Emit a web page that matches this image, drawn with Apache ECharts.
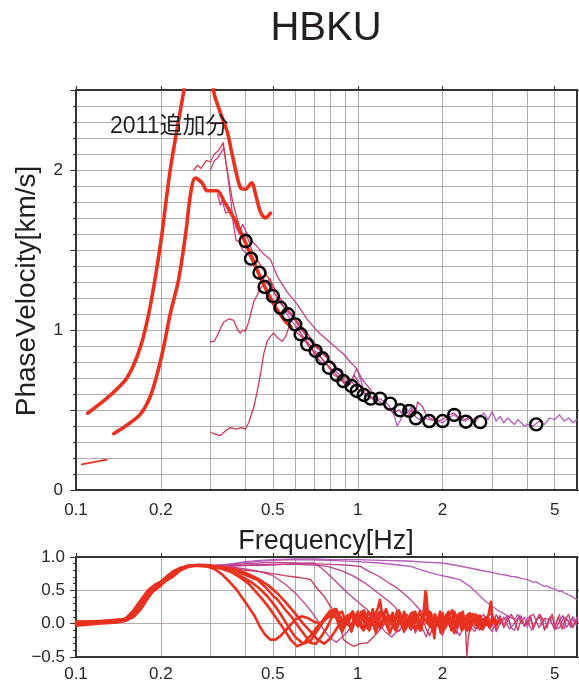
<!DOCTYPE html>
<html>
<head>
<meta charset="utf-8">
<style>
  html, body { margin: 0; padding: 0; background: #ffffff; }
  #chart { width: 579px; height: 687px; }
</style>
<script src="https://cdn.jsdelivr.net/npm/echarts@6.0.0/dist/echarts.min.js"></script>
</head>
<body>
<div id="chart"></div>
<script>
// ---- axis values ----
const freqLabels = [0.1, 0.2, 0.5, 1, 2, 5];
const freqGrid = [0.1, 0.2, 0.3, 0.4, 0.5, 0.6, 0.7, 0.8, 0.9, 1, 2, 3, 4, 5, 6];

// ---- dispersion panel: phase velocity [km/s] vs frequency [Hz] ----
// picked dispersion points (circles)
const pickedFreq = [0.40, 0.418, 0.448, 0.467, 0.50, 0.532, 0.565, 0.60, 0.627, 0.662, 0.709, 0.749, 0.791, 0.842, 0.889, 0.95, 0.992, 1.05, 1.113, 1.2, 1.303, 1.415, 1.523, 1.608, 1.794, 2.0, 2.2, 2.42, 2.72, 4.3];
const pickedVel  = [1.556, 1.446, 1.358, 1.269, 1.212, 1.139, 1.098, 1.035, 0.973, 0.910, 0.869, 0.823, 0.764, 0.719, 0.681, 0.650, 0.619, 0.594, 0.571, 0.571, 0.540, 0.498, 0.494, 0.448, 0.431, 0.431, 0.469, 0.427, 0.424, 0.410];

// 2011 additions (thick red)
const add2011A = [[0.11,0.48],[0.13,0.58],[0.1515,0.70],[0.169,0.89],[0.183,1.14],[0.2,1.55],[0.216,2.0],[0.241,2.49],[0.26,2.85],[0.28,2.95],[0.3,2.7],[0.308,2.49],[0.325,2.36],[0.344,2.24],[0.36,2.08],[0.383,1.89],[0.40,1.88],[0.42,1.92],[0.435,1.84],[0.451,1.74],[0.47,1.70],[0.49,1.73]];
const add2011B = [[0.136,0.352],[0.15,0.40],[0.169,0.473],[0.183,0.58],[0.194,0.723],[0.205,0.9],[0.216,1.10],[0.231,1.31],[0.245,1.6],[0.255,1.85],[0.265,1.95],[0.28,1.92],[0.292,1.87],[0.317,1.87],[0.334,1.81],[0.355,1.73],[0.373,1.66],[0.41,1.5],[0.451,1.33],[0.5,1.17],[0.55,1.06],[0.58,1.02]];
const add2011C = [[0.1047,0.16],[0.1286,0.19]];

// other stations' curves (thin)
const curveA = [[0.262,2.0],[0.27,2.03],[0.278,2.01],[0.29,2.06],[0.30,2.05],[0.31,2.1],[0.32,2.12],[0.333,2.17],[0.34,2.05],[0.35,1.92],[0.36,1.8],[0.37,1.72],[0.38,1.65],[0.39,1.6],[0.40,1.6],[0.41,1.56],[0.42,1.5],[0.44,1.44],[0.46,1.38],[0.48,1.33],[0.50,1.28],[0.52,1.22],[0.55,1.16],[0.58,1.1],[0.62,1.02],[0.66,0.96],[0.70,0.9],[0.75,0.86],[0.8,0.8],[0.85,0.75]];
const curveB = [[0.30,2.0],[0.31,2.06],[0.32,2.08],[0.335,2.14],[0.345,1.98],[0.355,1.8],[0.362,1.66],[0.37,1.56],[0.38,1.55],[0.39,1.5],[0.41,1.47],[0.43,1.4],[0.45,1.35],[0.47,1.3],[0.49,1.27],[0.51,1.22],[0.53,1.17],[0.56,1.12],[0.6,1.06],[0.64,0.99],[0.68,0.93],[0.72,0.89],[0.76,0.84],[0.8,0.81],[0.84,0.77],[0.88,0.72],[0.92,0.69],[0.96,0.67],[1.0,0.63],[1.05,0.61],[1.1,0.58]];
const curveC = [[0.318,1.85],[0.325,1.78],[0.33,1.81],[0.34,1.73],[0.35,1.74],[0.36,1.72],[0.37,1.64],[0.38,1.6],[0.39,1.66],[0.40,1.62],[0.42,1.56],[0.44,1.52],[0.46,1.48],[0.49,1.44],[0.52,1.33],[0.56,1.24],[0.61,1.16],[0.66,1.07],[0.72,0.99],[0.8,0.92],[0.85,0.88],[0.89,0.85],[0.94,0.8],[0.99,0.76],[1.03,0.7],[1.07,0.66],[1.12,0.62]];
const curveD = [[0.30,0.925],[0.31,0.93],[0.32,0.98],[0.334,1.05],[0.35,1.07],[0.363,1.06],[0.375,1.0],[0.383,0.98],[0.39,1.0],[0.399,0.99],[0.41,1.05],[0.428,1.18],[0.44,1.22],[0.451,1.26],[0.47,1.3],[0.49,1.32],[0.5,1.25],[0.52,1.2],[0.55,1.14],[0.58,1.1],[0.62,1.04],[0.66,0.98],[0.7,0.92],[0.74,0.87],[0.78,0.83]];
const curveE = [[0.30,0.3625],[0.31,0.35],[0.325,0.34],[0.34,0.37],[0.353,0.39],[0.37,0.38],[0.385,0.39],[0.399,0.38],[0.41,0.42],[0.428,0.52],[0.44,0.62],[0.451,0.72],[0.465,0.86],[0.477,0.93],[0.49,0.96],[0.503,0.98],[0.52,0.95],[0.54,0.93],[0.555,0.96],[0.57,1.02],[0.59,1.0],[0.62,0.97],[0.66,0.92],[0.7,0.86],[0.74,0.83],[0.78,0.78],[0.82,0.74],[0.86,0.70],[0.9,0.67]];
const curveF = [[0.55,1.12],[0.58,1.06],[0.62,1.0],[0.65,0.93],[0.68,0.88],[0.72,0.86],[0.76,0.80],[0.8,0.76],[0.84,0.74],[0.88,0.70],[0.92,0.66],[0.96,0.70],[0.99,0.76],[1.02,0.70],[1.06,0.6],[1.1,0.58],[1.15,0.56],[1.2,0.57],[1.25,0.55],[1.3,0.52],[1.35,0.46],[1.38,0.40],[1.42,0.44],[1.46,0.50],[1.5,0.48],[1.55,0.52],[1.6,0.46],[1.65,0.44],[1.7,0.45],[1.8,0.44],[1.9,0.43],[2.0,0.42],[2.1,0.45],[2.2,0.47],[2.3,0.44],[2.4,0.43],[2.5,0.45],[2.6,0.42],[2.7,0.46],[2.8,0.48],[2.9,0.44],[3.0,0.49],[3.1,0.43],[3.2,0.46],[3.3,0.42],[3.4,0.45],[3.5,0.43],[3.6,0.41],[3.7,0.44],[3.8,0.42],[3.9,0.40],[4.0,0.41],[4.2,0.40],[4.4,0.43],[4.6,0.41],[4.8,0.45],[5.0,0.44],[5.2,0.47],[5.4,0.43],[5.6,0.45],[5.8,0.42],[6.0,0.44]];
const curveG = [[0.6,1.02],[0.64,0.96],[0.68,0.9],[0.7,0.85],[0.74,0.80],[0.78,0.78],[0.82,0.72],[0.86,0.70],[0.9,0.66],[0.94,0.66],[0.97,0.72],[1.0,0.68],[1.04,0.62],[1.08,0.59],[1.12,0.58],[1.18,0.56],[1.24,0.53],[1.3,0.50],[1.34,0.48],[1.4,0.50],[1.45,0.47],[1.5,0.46],[1.55,0.50],[1.6,0.47],[1.63,0.55],[1.7,0.52],[1.75,0.47],[1.8,0.45],[1.9,0.43],[2.0,0.44],[2.1,0.47],[2.2,0.48],[2.3,0.45],[2.4,0.44],[2.5,0.46],[2.6,0.43]];

// ---- coherence panel ----
const cohRed1 = [[0.1,0.0],[0.11,0.01],[0.12,0.03],[0.13,0.04],[0.14,0.04],[0.15,0.08],[0.16,0.2],[0.17,0.36],[0.18,0.5],[0.19,0.58],[0.2,0.63],[0.21,0.71],[0.22,0.78],[0.235,0.84],[0.25,0.87],[0.27,0.87],[0.29,0.86],[0.31,0.82],[0.33,0.74],[0.35,0.63],[0.37,0.52],[0.39,0.38],[0.41,0.25],[0.43,0.12],[0.45,-0.05],[0.47,-0.17],[0.49,-0.24],[0.51,-0.24],[0.53,-0.19],[0.56,-0.08],[0.6,0.06],[0.63,0.11],[0.66,0.09],[0.7,0.03],[0.74,0.0],[0.76,0.08],[0.78,0.14],[0.8,0.2],[0.82,0.1],[0.84,0.22],[0.86,0.06],[0.88,-0.06],[0.9,0.05],[0.92,-0.02],[0.95,0.14],[0.97,0.03],[1.0,0.18],[1.02,0.04],[1.05,-0.08],[1.08,0.1],[1.1,0.02],[1.13,0.22],[1.15,0.06],[1.18,0.14],[1.2,-0.06],[1.23,0.1],[1.26,0.22],[1.3,0.04],[1.33,0.16],[1.36,-0.1],[1.4,0.08],[1.43,-0.02],[1.46,0.18],[1.5,0.06],[1.54,-0.08],[1.58,0.14],[1.62,0.02],[1.66,0.18],[1.7,0.06],[1.73,0.25],[1.75,0.45],[1.77,0.2],[1.8,0.1],[1.84,-0.06],[1.88,0.14],[1.92,0.02],[1.96,0.18],[2.0,-0.08],[2.05,0.1],[2.1,0.18],[2.15,-0.02],[2.2,-0.14],[2.25,0.08],[2.3,0.16],[2.35,-0.02],[2.4,0.06],[2.45,-0.1],[2.5,0.16],[2.55,0.02],[2.6,0.1],[2.66,-0.06],[2.72,0.12],[2.8,-0.02],[2.88,0.08],[2.95,-0.05],[3.0,0.06]];
const cohRed2 = [[0.1,-0.03],[0.12,0.0],[0.14,0.02],[0.15,0.04],[0.16,0.12],[0.17,0.28],[0.18,0.44],[0.19,0.55],[0.2,0.62],[0.21,0.68],[0.22,0.74],[0.235,0.82],[0.25,0.86],[0.27,0.88],[0.29,0.88],[0.31,0.86],[0.33,0.83],[0.35,0.79],[0.38,0.70],[0.41,0.6],[0.43,0.5],[0.46,0.36],[0.49,0.21],[0.52,0.05],[0.55,-0.1],[0.58,-0.25],[0.61,-0.34],[0.64,-0.3],[0.68,-0.18],[0.72,-0.04],[0.76,0.06],[0.8,0.15],[0.83,0.22],[0.85,0.14],[0.87,0.1],[0.9,-0.02],[0.92,0.1],[0.95,-0.12],[0.98,0.06],[1.0,0.0],[1.03,0.18],[1.05,0.12],[1.08,-0.06],[1.1,-0.1],[1.13,0.08],[1.16,0.16],[1.18,0.24],[1.2,0.36],[1.22,0.14],[1.25,0.08],[1.28,-0.08],[1.31,0.1],[1.35,0.0],[1.38,0.18],[1.42,0.04],[1.46,-0.12],[1.5,0.02],[1.54,0.14],[1.58,-0.04],[1.62,0.1],[1.66,-0.1],[1.7,0.06],[1.75,0.18],[1.8,0.02],[1.85,-0.12],[1.9,0.1],[1.95,-0.02],[2.0,0.14],[2.05,-0.06],[2.1,0.06],[2.16,0.2],[2.22,-0.02],[2.28,0.1],[2.34,-0.1],[2.4,0.04],[2.46,0.14],[2.52,-0.04],[2.58,0.08],[2.64,-0.02],[2.7,0.12],[2.78,0.02],[2.86,0.1],[2.94,-0.06],[3.02,0.08],[3.1,-0.02],[3.2,0.05]];
const cohRed3 = [[0.1,0.02],[0.12,0.04],[0.14,0.05],[0.15,0.06],[0.16,0.15],[0.17,0.3],[0.18,0.42],[0.19,0.5],[0.2,0.57],[0.21,0.66],[0.22,0.76],[0.235,0.83],[0.25,0.87],[0.27,0.88],[0.3,0.87],[0.33,0.84],[0.36,0.80],[0.39,0.75],[0.42,0.69],[0.44,0.66],[0.47,0.55],[0.5,0.42],[0.52,0.36],[0.55,0.22],[0.58,0.11],[0.61,-0.02],[0.64,-0.14],[0.68,-0.29],[0.71,-0.3],[0.74,-0.2],[0.78,-0.05],[0.81,0.1],[0.84,0.2],[0.86,0.15],[0.88,0.18],[0.9,0.06],[0.92,0.12],[0.94,-0.06],[0.96,0.02],[0.99,0.14],[1.02,0.06],[1.05,0.2],[1.08,0.08],[1.1,-0.06],[1.13,0.04],[1.16,-0.14],[1.19,0.06],[1.22,0.18],[1.25,0.02],[1.29,0.12],[1.33,-0.06],[1.37,0.08],[1.4,0.2],[1.44,0.06],[1.48,-0.08],[1.52,0.08],[1.56,-0.02],[1.6,0.14],[1.64,0.02],[1.68,-0.1],[1.71,0.14],[1.74,0.49],[1.76,0.16],[1.79,-0.02],[1.83,0.1],[1.87,-0.22],[1.9,0.1],[1.95,0.0],[2.0,0.16],[2.05,-0.02],[2.1,0.08],[2.15,-0.1],[2.2,0.18],[2.26,0.04],[2.32,0.12],[2.38,-0.06],[2.44,0.08],[2.5,-0.02],[2.56,0.14],[2.62,0.02],[2.68,0.1],[2.74,-0.08],[2.8,0.06],[2.86,-0.02],[2.92,0.16],[2.97,0.33],[3.0,0.12],[3.05,0.04]];
const cohRed4 = [[0.1,-0.02],[0.12,0.02],[0.14,0.03],[0.15,0.05],[0.16,0.1],[0.17,0.22],[0.18,0.38],[0.19,0.52],[0.2,0.6],[0.21,0.65],[0.22,0.7],[0.235,0.8],[0.25,0.85],[0.27,0.88],[0.3,0.87],[0.33,0.85],[0.36,0.82],[0.4,0.76],[0.44,0.68],[0.48,0.58],[0.52,0.45],[0.56,0.3],[0.6,0.15],[0.64,0.0],[0.68,-0.12],[0.72,-0.24],[0.76,-0.3],[0.8,-0.22],[0.84,-0.08],[0.88,0.05],[0.92,0.12],[0.94,0.14],[0.96,0.18],[0.98,0.04],[1.0,-0.04],[1.03,0.1],[1.06,0.0],[1.09,0.18],[1.12,0.08],[1.15,-0.08],[1.18,0.06],[1.21,-0.04],[1.25,0.12],[1.29,0.02],[1.33,0.16],[1.37,-0.1],[1.41,0.04],[1.45,0.12],[1.5,-0.04],[1.55,0.16],[1.6,0.18],[1.64,0.04],[1.68,-0.06],[1.72,0.08],[1.77,0.0],[1.82,0.16],[1.87,-0.04],[1.92,0.08],[1.97,-0.14],[2.02,0.04],[2.07,0.14],[2.12,-0.02],[2.18,0.1],[2.24,-0.06],[2.3,0.06],[2.36,0.18],[2.42,-0.08],[2.48,0.08],[2.55,0.14],[2.62,-0.02],[2.7,0.08],[2.78,-0.06],[2.86,0.1],[2.94,0.02]];
const cohRed5 = [[0.1,0.03],[0.12,0.03],[0.14,0.06],[0.15,0.06],[0.16,0.18],[0.17,0.34],[0.18,0.47],[0.19,0.56],[0.2,0.6],[0.21,0.67],[0.22,0.75],[0.235,0.83],[0.25,0.86],[0.27,0.87],[0.3,0.86],[0.33,0.82],[0.36,0.77],[0.39,0.7],[0.42,0.62],[0.45,0.52],[0.48,0.4],[0.51,0.26],[0.54,0.1],[0.57,-0.06],[0.6,-0.2],[0.64,-0.3],[0.68,-0.26],[0.72,-0.1],[0.76,0.05],[0.8,0.12],[0.82,0.16],[0.84,0.08],[0.86,-0.04],[0.88,-0.12],[0.9,-0.02],[0.92,0.02],[0.94,0.12],[0.96,0.18],[0.98,0.08],[1.0,0.04],[1.03,-0.06],[1.05,-0.1],[1.08,0.02],[1.1,0.08],[1.13,-0.02],[1.15,0.02],[1.18,0.14],[1.2,0.18],[1.23,0.08],[1.25,0.04],[1.28,-0.06],[1.3,-0.14],[1.33,-0.02],[1.35,0.06],[1.38,0.18],[1.4,0.14],[1.45,0.02],[1.5,-0.04],[1.55,0.08],[1.6,-0.08],[1.65,0.02],[1.7,0.1],[1.75,0.04],[1.8,0.18],[1.85,0.06],[1.9,-0.04],[1.95,0.1],[2.0,-0.12],[2.05,0.02],[2.1,0.1],[2.16,-0.04],[2.22,0.14],[2.3,0.02],[2.36,-0.08],[2.42,0.06],[2.5,-0.1],[2.56,0.04],[2.62,0.14],[2.7,0.08],[2.78,-0.04],[2.86,0.06],[2.94,-0.02],[3.02,0.1],[3.1,0.04]];
const cohThin1 = [[0.3,0.87],[0.33,0.88],[0.36,0.9],[0.4,0.93],[0.45,0.95],[0.5,0.96],[0.6,0.97],[0.7,0.97],[0.8,0.96],[1.0,0.96],[1.2,0.95],[1.5,0.94],[1.8,0.92],[2.0,0.91],[2.2,0.88],[2.4,0.85],[2.6,0.82],[2.8,0.79],[3.0,0.77],[3.2,0.74],[3.35,0.73],[3.5,0.71],[3.65,0.70],[3.8,0.68],[4.0,0.66],[4.1,0.64],[4.2,0.62],[4.3,0.63],[4.4,0.6],[4.5,0.58],[4.6,0.56],[4.7,0.57],[4.8,0.54],[4.9,0.53],[5.0,0.52],[5.1,0.5],[5.2,0.48],[5.3,0.49],[5.4,0.46],[5.5,0.45],[5.6,0.43],[5.7,0.42],[5.8,0.4],[5.9,0.38],[6.0,0.36]];
const cohThin2 = [[0.3,0.87],[0.35,0.89],[0.4,0.92],[0.5,0.95],[0.6,0.96],[0.8,0.95],[1.0,0.93],[1.2,0.91],[1.4,0.88],[1.54,0.86],[1.7,0.8],[1.9,0.74],[2.1,0.7],[2.3,0.66],[2.5,0.56],[2.65,0.46],[2.8,0.36],[3.0,0.26],[3.2,0.18],[3.4,0.12],[3.6,0.06],[3.7,0.14],[3.8,0.0],[3.9,0.1],[4.0,-0.06],[4.1,0.08],[4.2,-0.08],[4.3,0.04],[4.4,0.14],[4.5,-0.02],[4.6,0.08],[4.7,-0.07],[4.8,0.1],[4.9,0.0],[5.0,-0.1],[5.1,0.06],[5.2,0.14],[5.3,-0.02],[5.4,-0.08],[5.5,0.08],[5.6,0.02],[5.7,-0.06],[5.8,0.1],[5.9,-0.02],[6.0,0.08]];
const cohThin3 = [[0.3,0.87],[0.35,0.88],[0.4,0.9],[0.5,0.92],[0.6,0.91],[0.7,0.9],[0.8,0.89],[0.9,0.88],[1.02,0.86],[1.1,0.78],[1.2,0.7],[1.3,0.6],[1.35,0.56],[1.45,0.46],[1.54,0.36],[1.65,0.22],[1.77,0.11],[1.9,0.02],[1.95,0.1],[2.0,-0.1],[2.06,0.06],[2.12,-0.05],[2.18,0.1],[2.24,-0.15],[2.3,0.02],[2.36,0.12],[2.42,-0.12],[2.5,0.08],[2.56,-0.02],[2.62,-0.08],[2.7,0.06],[2.8,0.14],[2.9,-0.04],[3.0,-0.12],[3.1,0.04],[3.2,0.12],[3.3,-0.02],[3.4,0.1],[3.5,-0.06],[3.6,-0.1],[3.7,0.06],[3.8,0.12],[3.9,-0.04],[4.0,0.04],[4.15,-0.1],[4.3,0.06],[4.45,0.14],[4.6,-0.08],[4.75,0.04],[4.9,0.1],[5.05,-0.08],[5.2,0.04],[5.35,0.12],[5.5,-0.06],[5.65,0.02],[5.8,0.1],[6.0,-0.02]];
const cohThin4 = [[0.3,0.87],[0.35,0.87],[0.4,0.88],[0.5,0.89],[0.6,0.89],[0.7,0.88],[0.78,0.86],[0.87,0.8],[0.97,0.71],[1.07,0.6],[1.18,0.46],[1.27,0.36],[1.35,0.26],[1.46,0.06],[1.5,0.04],[1.55,-0.1],[1.6,0.04],[1.65,0.08],[1.7,-0.08],[1.75,-0.2],[1.8,-0.04],[1.85,0.1],[1.9,0.02],[1.95,-0.06],[2.02,0.08],[2.1,0.12],[2.2,-0.06],[2.3,-0.18],[2.4,0.0],[2.5,0.06],[2.6,0.12],[2.7,-0.1],[2.8,0.02],[2.9,0.04],[3.0,0.1],[3.1,-0.12],[3.2,0.0],[3.3,0.06],[3.4,0.12],[3.5,-0.04]];
const cohThin5 = [[0.3,0.87],[0.35,0.86],[0.4,0.87],[0.5,0.88],[0.6,0.9],[0.7,0.91],[0.75,0.82],[0.8,0.71],[0.86,0.58],[0.92,0.46],[1.0,0.33],[1.08,0.21],[1.18,0.01],[1.25,-0.12],[1.32,-0.2],[1.36,-0.14],[1.4,-0.1],[1.45,-0.02],[1.5,0.02],[1.55,0.1],[1.6,-0.14],[1.65,-0.04],[1.7,0.1],[1.75,0.04],[1.8,-0.06],[1.9,0.06],[2.0,0.12],[2.1,0.0],[2.2,-0.08],[2.3,0.1],[2.4,0.06],[2.5,-0.04],[2.6,-0.12],[2.7,0.04],[2.8,0.08]];
const cohThin6 = [[0.3,0.87],[0.35,0.84],[0.4,0.8],[0.45,0.78],[0.5,0.75],[0.55,0.72],[0.6,0.7],[0.65,0.68],[0.68,0.66],[0.72,0.52],[0.76,0.41],[0.8,0.26],[0.85,0.11],[0.89,-0.24],[0.93,-0.3],[0.97,-0.34],[1.02,-0.3],[1.08,-0.29],[1.15,-0.18],[1.22,-0.05],[1.3,0.08],[1.35,-0.02],[1.4,0.02],[1.45,0.12],[1.5,0.14],[1.55,0.0],[1.6,-0.1],[1.65,0.04],[1.7,0.06],[1.75,-0.08],[1.8,-0.18],[1.85,-0.04],[1.9,0.04],[2.0,0.1],[2.1,0.02],[2.2,-0.06],[2.3,0.06],[2.4,0.12],[2.44,-0.49],[2.47,-0.2],[2.5,-0.08],[2.56,0.1],[2.62,0.0],[2.7,0.08],[2.78,-0.1],[2.86,0.06],[2.94,0.16],[3.0,0.1],[3.1,-0.08],[3.2,0.1],[3.3,-0.06],[3.4,0.04],[3.5,0.14],[3.6,0.06],[3.7,-0.1],[3.8,0.06],[3.9,-0.02],[4.0,0.0],[4.1,0.12],[4.2,-0.06],[4.35,0.08],[4.5,0.1],[4.6,-0.1],[4.75,0.04],[4.9,0.14],[5.0,-0.04],[5.15,0.1],[5.3,-0.08],[5.45,0.06],[5.6,0.14],[5.75,-0.04],[6.0,0.04]];
const cohThin7 = [[0.3,0.87],[0.35,0.85],[0.4,0.82],[0.45,0.78],[0.5,0.72],[0.55,0.6],[0.6,0.46],[0.64,0.33],[0.68,0.2],[0.72,0.05],[0.76,-0.1],[0.8,-0.22],[0.84,-0.28],[0.88,-0.2],[0.92,-0.12],[0.96,0.0],[1.0,0.08],[1.05,0.12],[1.1,0.08],[1.15,0.0],[1.2,-0.08],[1.25,0.04],[1.3,0.1],[1.35,-0.04],[1.4,-0.12],[1.45,0.0],[1.5,0.06],[1.55,0.12],[1.6,-0.08],[1.65,0.0],[1.7,0.1],[1.75,0.04],[1.8,-0.04],[1.85,0.02],[1.9,0.08],[1.95,-0.06],[2.0,-0.18],[2.05,-0.04],[2.1,0.04],[2.2,0.14],[2.3,0.1],[2.4,-0.04],[2.5,-0.06],[2.6,0.1],[2.7,0.08],[2.8,-0.08],[2.9,0.04],[3.0,-0.04],[3.1,0.14],[3.2,0.0],[3.3,0.1],[3.45,-0.08],[3.6,0.0],[3.75,0.12],[3.9,-0.04],[4.0,0.08],[4.2,0.14],[4.4,-0.06],[4.6,0.08],[4.8,0.06],[5.0,-0.08],[5.2,-0.06],[5.4,0.1],[5.6,0.04],[5.8,-0.06],[6.0,0.1]];

// ---- styling ----
const FONT = '"Liberation Sans", Arial, Helvetica, sans-serif';
const TEXT = '#2a2627';
const FRAME = '#333333';
const GRIDC = '#b4abab';
const RED = '#e8321f';
const PURPLE = '#b45cb8';
const MAGENTA = '#c2428c';
const CRIMSON = '#d23a55';

const fmtFreq = v => String(+Number(v).toPrecision(3));

function freqAxis(gridIndex, labelMargin) {
  return {
    type: 'log', logBase: 10, gridIndex, position: 'bottom', min: 0.1, max: 6,
    axisLine: { show: true, onZero: false, lineStyle: { color: FRAME, width: 2 } },
    axisTick: { show: false, customValues: freqGrid },
    axisLabel: { customValues: freqLabels, formatter: fmtFreq, fontSize: 17, color: TEXT, fontFamily: FONT, margin: labelMargin },
    splitLine: { show: true, lineStyle: { color: GRIDC, width: 1 } },
    minorTick: { show: false }, minorSplitLine: { show: false }
  };
}
function freqFrame(gridIndex) {
  return {
    type: 'log', logBase: 10, gridIndex, position: 'top', min: 0.1, max: 6,
    axisLine: { show: true, onZero: false, lineStyle: { color: FRAME, width: 2 } },
    axisTick: { show: true, length: 4, customValues: freqLabels, lineStyle: { color: FRAME } },
    axisLabel: { show: false }, splitLine: { show: false }
  };
}
function valueAxis(gridIndex, position, min, max, opts) {
  return Object.assign({
    type: 'value', gridIndex, position, min, max, interval: 0.5,
    axisLine: { show: true, onZero: false, lineStyle: { color: FRAME, width: 2 } },
    axisTick: { show: true, length: 6, lineStyle: { color: FRAME } },
    minorTick: { show: true, splitNumber: 5, length: 3, lineStyle: { color: FRAME } },
    axisLabel: { show: false },
    splitLine: { show: false }
  }, opts);
}

function line(data, color, width, xi, yi, z, smooth) {
  return {
    type: 'line', data, xAxisIndex: xi, yAxisIndex: yi, showSymbol: false, symbol: 'none',
    lineStyle: { color, width, join: 'round', cap: 'round' }, silent: true, z: z || 2, clip: true,
    smooth: smooth || false, animation: false
  };
}

const option = {
  animation: false,
  backgroundColor: '#ffffff',
  grid: [
    { left: 76, top: 90, width: 501, height: 400, outerBoundsMode: 'none', containLabel: false },
    { left: 76, top: 557, width: 501, height: 100, outerBoundsMode: 'none', containLabel: false }
  ],
  xAxis: [freqAxis(0, 12), freqFrame(0), freqAxis(1, 9), freqFrame(1)],
  yAxis: [
    valueAxis(0, 'left', 0, 2.5, {
      axisLabel: { show: true, formatter: v => (Math.abs(v % 1) < 1e-9 ? String(v) : ''), fontSize: 17, color: TEXT, fontFamily: FONT, margin: 13 },
      splitLine: { show: true, lineStyle: { color: GRIDC, width: 1 } },
      minorSplitLine: { show: true, lineStyle: { color: GRIDC, width: 1 } }
    }),
    valueAxis(0, 'right', 0, 2.5, { axisTick: { show: true, length: 4, lineStyle: { color: FRAME } }, minorTick: { show: false } }),
    valueAxis(1, 'left', -0.5, 1.0, {
      axisLabel: { show: true, formatter: v => (v < 0 ? '\u2212' + Math.abs(v).toFixed(1) : v.toFixed(1)), fontSize: 17, color: TEXT, fontFamily: FONT, margin: 11 },
      splitLine: { show: true, lineStyle: { color: GRIDC, width: 1 } }
    }),
    valueAxis(1, 'right', -0.5, 1.0, { axisTick: { show: true, length: 4, lineStyle: { color: FRAME } }, minorTick: { show: false } })
  ],
  graphic: [
    { type: 'text', x: 326, y: 29, style: { text: 'HBKU', font: '40px ' + FONT, fill: '#231f20', align: 'center', verticalAlign: 'middle', textAlign: 'center', textVerticalAlign: 'middle' } },
    { type: 'text', x: 27, y: 291, rotation: Math.PI / 2, style: { text: 'PhaseVelocity[km/s]', font: '28px ' + FONT, fill: '#231f20', align: 'center', verticalAlign: 'middle', textAlign: 'center', textVerticalAlign: 'middle' } },
    { type: 'text', x: 326, y: 542, z: 100, style: { text: 'Frequency[Hz]', font: '27px ' + FONT, fill: '#231f20', align: 'center', verticalAlign: 'middle', textAlign: 'center', textVerticalAlign: 'middle' } },
    { type: 'text', x: 110, y: 127, z: 100, style: { text: '2011追加分', font: '23px "Liberation Sans", "Noto Sans CJK JP", sans-serif', fill: '#231f20', align: 'left', verticalAlign: 'middle', textAlign: 'left', textVerticalAlign: 'middle' } }
  ],
  series: [
    // dispersion panel
    line(curveF, PURPLE, 1.3, 0, 0),
    line(curveG, MAGENTA, 1.3, 0, 0),
    line(curveE, CRIMSON, 1.3, 0, 0),
    line(curveD, CRIMSON, 1.3, 0, 0),
    line(curveC, MAGENTA, 1.3, 0, 0),
    line(curveB, MAGENTA, 1.3, 0, 0),
    line(curveA, CRIMSON, 1.3, 0, 0),
    line(add2011A, RED, 3.6, 0, 0, 3, 0.3),
    line(add2011B, RED, 3.6, 0, 0, 3, 0.3),
    line(add2011C, RED, 1.6, 0, 0, 3),
    {
      type: 'scatter', xAxisIndex: 0, yAxisIndex: 0, silent: true, z: 5,
      data: pickedFreq.map((f, i) => [f, pickedVel[i]]),
      symbol: 'circle', symbolSize: 12,
      itemStyle: { color: 'rgba(0,0,0,0)', borderColor: '#000000', borderWidth: 2.4, opacity: 1 }
    },
    // coherence panel
    line(cohThin1, PURPLE, 1.3, 2, 2),
    line(cohThin2, PURPLE, 1.3, 2, 2),
    line(cohThin3, MAGENTA, 1.3, 2, 2),
    line(cohThin4, MAGENTA, 1.3, 2, 2),
    line(cohThin5, MAGENTA, 1.3, 2, 2),
    line(cohThin7, MAGENTA, 1.3, 2, 2),
    line(cohThin6, CRIMSON, 1.4, 2, 2),
    line(cohRed1, RED, 2.6, 2, 2, 3),
    line(cohRed2, RED, 2.6, 2, 2, 3),
    line(cohRed3, RED, 2.6, 2, 2, 3),
    line(cohRed4, RED, 2.6, 2, 2, 3),
    line(cohRed5, RED, 2.6, 2, 2, 3)
  ]
};

const chart = echarts.init(document.getElementById('chart'), null, { renderer: 'canvas' });
chart.setOption(option);
</script>
</body>
</html>
